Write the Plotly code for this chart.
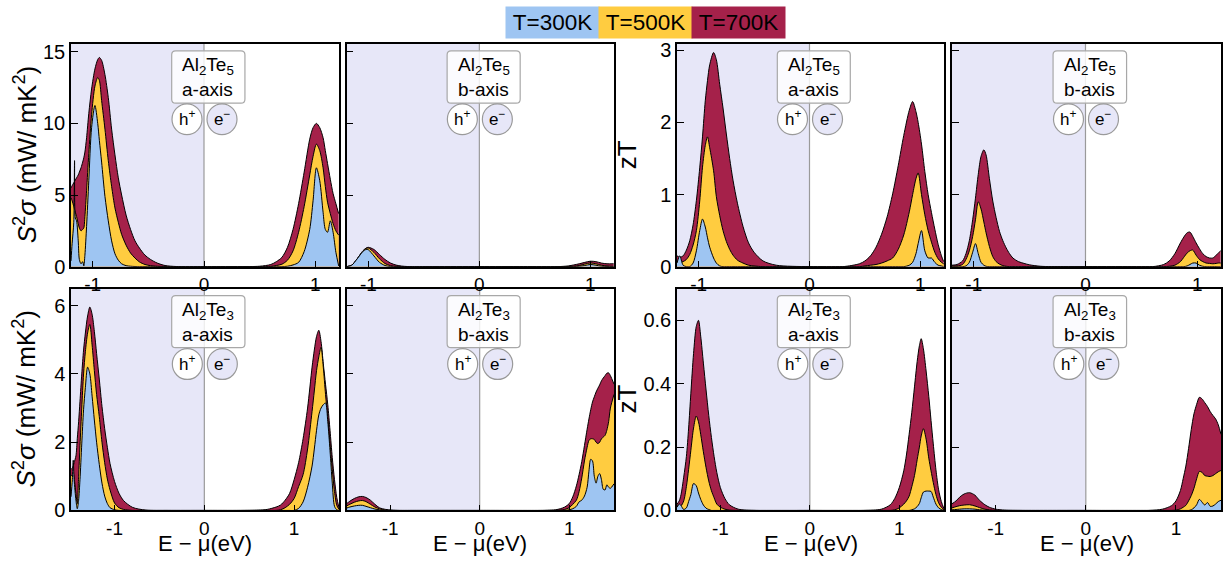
import plotly.graph_objects as go

# ---------------- data ----------------
TEMPS = ["T=300K", "T=500K", "T=700K"]
TEMP_COLORS = ["#9ec5f2", "#ffcc40", "#a5214a"]

XTICKS = [-1, 0, 1]
XTICKTEXT = ["-1", "0", "1"]

# Al2Te5 a-axis, power factor (mW/mK^2)
E_p1 = [-1.195, -1.185, -1.17, -1.163, -1.156, -1.145, -1.13, -1.12, -1.105, -1.09, -1.08, -1.07, -1.055, -1.035,
        -1.01, -0.98, -0.955, -0.94, -0.92, -0.89, -0.86, -0.83, -0.8, -0.77, -0.74, -0.7, -0.66, -0.62, -0.58,
        -0.53, -0.48, -0.42, -0.35, -0.25, 0.0, 0.3, 0.5, 0.6, 0.65, 0.7, 0.75, 0.8, 0.85, 0.9, 0.95, 0.98, 1.01,
        1.04, 1.07, 1.09, 1.11, 1.135, 1.16, 1.185, 1.21]
PF_A5a_700 = [5.5, 5.65, 5.85, 5.95, 6.05, 6.2, 6.4, 6.6, 6.9, 7.3, 7.6, 8.0, 9.0, 10.7, 12.4, 13.8, 14.45, 14.6, 14.4,
              13.4, 11.8, 9.6, 7.8, 6.2, 5.0, 3.6, 2.6, 1.8, 1.3, 0.8, 0.5, 0.25, 0.08, 0.01, 0, 0, 0.03, 0.15, 0.35,
              0.65, 1.35, 2.6, 4.4, 6.6, 8.9, 9.7, 10.0, 9.7, 9.0, 8.1, 7.2, 6.1, 5.1, 4.4, 3.7]
PF_A5a_500 = [4.8, 4.6, 4.2, 4.0, 3.8, 3.5, 3.0, 2.7, 2.5, 2.6, 2.7, 3.5, 5.3, 7.9, 10.6, 12.6, 13.2, 13.0, 11.6, 9.6,
              7.4, 5.6, 4.1, 3.1, 2.25, 1.5, 0.95, 0.6, 0.33, 0.15, 0.07, 0.03, 0.01, 0, 0, 0, 0, 0.02, 0.08, 0.17,
              0.45, 1.1, 2.4, 4.2, 6.4, 7.7, 8.55, 8.1, 6.9, 5.6, 4.5, 3.7, 3.0, 2.5, 2.2]
PF_A5a_300 = [0.4, 1.6, 3.1, 7.4, 3.4, 3.2, 1.8, 0.5, 0.2, 0.35, 0.05, 0.8, 2.8, 6.0, 9.7, 11.25, 10.0, 8.8, 7.3, 4.9,
              3.2, 1.8, 0.9, 0.45, 0.2, 0.07, 0.03, 0.01, 0, 0, 0, 0, 0, 0, 0, 0, 0, 0, 0, 0, 0.03, 0.12, 0.3, 1.05,
              2.6, 4.6, 6.9, 6.0, 3.8, 2.6, 2.4, 3.2, 2.4, 1.0, 0.05]

# Al2Te5 b-axis, power factor
E_p2 = [-1.195, -1.15, -1.1, -1.05, -1.02, -1.0, -0.95, -0.9, -0.85, -0.8, -0.75, -0.7, -0.65, -0.6, -0.4, 0, 0.4,
        0.7, 0.8, 0.85, 0.9, 0.95, 1.0, 1.05, 1.1, 1.15, 1.21]
PF_A5b_700 = [0.0, 0.1, 0.55, 1.1, 1.3, 1.35, 1.2, 0.85, 0.5, 0.25, 0.11, 0.04, 0.01, 0, 0, 0, 0, 0, 0.05, 0.12, 0.2,
              0.3, 0.38, 0.35, 0.25, 0.2, 0.2]
PF_A5b_500 = [0.0, 0.1, 0.55, 1.08, 1.27, 1.3, 1.0, 0.55, 0.22, 0.07, 0.02, 0, 0, 0, 0, 0, 0, 0, 0.01, 0.03, 0.08,
              0.18, 0.26, 0.2, 0.1, 0.05, 0.03]
PF_A5b_300 = [0.0, 0.1, 0.55, 1.05, 1.2, 1.18, 0.75, 0.3, 0.08, 0.01, 0, 0, 0, 0, 0, 0, 0, 0, 0, 0, 0.03, 0.08, 0.15,
              0.1, 0.03, 0.01, 0]

# Al2Te5 a-axis, zT
E_p3 = [-1.195, -1.17, -1.14, -1.11, -1.08, -1.05, -1.02, -0.99, -0.965, -0.94, -0.92, -0.9, -0.865, -0.84, -0.81,
        -0.78, -0.75, -0.72, -0.69, -0.65, -0.6, -0.55, -0.5, -0.42, -0.3, 0, 0.3, 0.45, 0.5, 0.55, 0.6, 0.65, 0.7,
        0.75, 0.8, 0.85, 0.9, 0.93, 0.96, 0.98, 1.01, 1.04, 1.07, 1.1, 1.13, 1.16, 1.19, 1.21]
ZT_A5a_700 = [0.15, 0.13, 0.15, 0.23, 0.36, 0.58, 0.92, 1.37, 1.8, 2.3, 2.58, 2.8, 2.97, 2.87, 2.53, 2.2, 1.84, 1.5,
              1.2, 0.88, 0.56, 0.33, 0.2, 0.08, 0.02, 0, 0,
              0.04, 0.08, 0.15, 0.27, 0.45, 0.69, 1.01, 1.4, 1.82, 2.17, 2.29, 2.15, 2.0, 1.7, 1.32, 1.0, 0.75, 0.52,
              0.31, 0.15, 0.07]
ZT_A5a_500 = [0.08, 0.06, 0.07, 0.1, 0.17, 0.3, 0.5, 0.91, 1.38, 1.68, 1.8, 1.65, 1.33, 0.97, 0.71, 0.5, 0.35, 0.24,
              0.16, 0.09, 0.05, 0.02, 0.01, 0, 0, 0, 0,
              0, 0.01, 0.02, 0.03, 0.05, 0.08, 0.12, 0.24, 0.44, 0.76, 1.0, 1.22, 1.3, 1.0, 0.72, 0.5, 0.34, 0.2,
              0.11, 0.06, 0.04]
ZT_A5a_300 = [0.05, 0.15, 0.02, 0, 0, 0.05, 0.22, 0.5, 0.66, 0.55, 0.4, 0.27, 0.12, 0.05, 0.01, 0, 0, 0, 0, 0, 0, 0,
              0, 0, 0, 0, 0,
              0, 0, 0, 0, 0, 0, 0, 0, 0, 0.02, 0.06, 0.18, 0.32, 0.5, 0.22, 0.12, 0.12, 0.06, 0.02, 0.01, 0]

# Al2Te5 b-axis, zT
E_p4 = [-1.195, -1.15, -1.1, -1.07, -1.04, -1.01, -0.985, -0.96, -0.935, -0.91, -0.89, -0.86, -0.83, -0.8, -0.77,
        -0.74, -0.71, -0.68, -0.65, -0.6, -0.55, -0.5, -0.4, -0.2, 0, 0.3, 0.6, 0.7, 0.75, 0.8, 0.85, 0.88, 0.91,
        0.935, 0.96, 0.99, 1.02, 1.05, 1.08, 1.11, 1.14, 1.17, 1.19, 1.21]
ZT_A5b_700 = [0.02, 0.03, 0.08, 0.18, 0.36, 0.65, 0.95, 1.28, 1.53, 1.62, 1.55, 1.22, 0.91, 0.68, 0.49, 0.36, 0.26,
              0.18, 0.12, 0.07, 0.045, 0.025, 0.005, 0, 0, 0, 0, 0.03, 0.08, 0.18, 0.33, 0.41, 0.47, 0.48, 0.42, 0.33,
              0.25, 0.18, 0.14, 0.12, 0.12, 0.16, 0.19, 0.22]
ZT_A5b_500 = [0.01, 0.01, 0.03, 0.1, 0.22, 0.42, 0.65, 0.9, 0.8, 0.62, 0.47, 0.28, 0.14, 0.07, 0.035, 0.015, 0.005,
              0, 0, 0, 0, 0, 0, 0, 0, 0, 0, 0, 0.005, 0.02, 0.07, 0.13, 0.19, 0.22, 0.23, 0.16, 0.1, 0.07, 0.05, 0.045,
              0.04, 0.045, 0.05, 0.05]
ZT_A5b_300 = [0, 0, 0, 0.01, 0.06, 0.2, 0.32, 0.18, 0.06, 0.02, 0.005, 0, 0, 0, 0, 0, 0, 0, 0, 0, 0, 0, 0, 0, 0, 0,
              0, 0, 0, 0, 0, 0, 0.01, 0.03, 0.05, 0.05, 0.02, 0.005, 0, 0, 0, 0, 0, 0]

# Al2Te3 a-axis, power factor
E_p5 = [-1.485, -1.47, -1.46, -1.45, -1.43, -1.415, -1.4, -1.385, -1.365, -1.345, -1.325, -1.3, -1.275, -1.25, -1.225,
        -1.2, -1.17, -1.14, -1.11, -1.08, -1.05, -1.0, -0.95, -0.9, -0.8, -0.65, -0.4, 0, 0.4, 0.6, 0.7, 0.8, 0.85,
        0.9, 0.95, 1.0, 1.05, 1.1, 1.15, 1.2, 1.225, 1.25, 1.275, 1.3, 1.325, 1.35, 1.375, 1.4, 1.425, 1.45, 1.475,
        1.5]
PF_A3a_700 = [1.2, 1.25, 1.3, 1.4, 1.6, 2.1, 2.6, 3.2, 4.0, 4.7, 5.2, 5.7, 5.96, 5.75, 5.25, 4.6, 3.85, 3.05, 2.4,
              1.85, 1.37, 0.85, 0.5, 0.29, 0.09, 0.01, 0, 0, 0, 0.01, 0.03, 0.1, 0.16, 0.3, 0.5, 0.9, 1.4, 2.1, 3.0,
              4.2, 4.7, 5.1, 5.28, 4.95, 4.3, 3.7, 3.1, 2.35, 1.55, 0.9, 0.38, 0.08]
PF_A3a_500 = [1.0, 1.05, 1.1, 0.95, 0.5, 0.2, 1.0, 1.9, 3.0, 4.0, 4.65, 5.2, 5.45, 4.85, 4.1, 3.4, 2.75, 2.0, 1.4,
              0.92, 0.6, 0.22, 0.08, 0.03, 0, 0, 0, 0, 0, 0, 0, 0, 0.02, 0.08, 0.18, 0.35, 0.7, 1.05, 1.8, 2.9, 3.5,
              4.1, 4.5, 4.78, 4.2, 3.4, 2.7, 1.96, 1.2, 0.55, 0.15, 0.03]
PF_A3a_300 = [0.4, 0.9, 1.47, 0.9, 0.3, 0.05, 0.3, 0.9, 1.95, 2.95, 3.6, 4.2, 4.0, 3.35, 2.65, 2.0, 1.35, 0.8, 0.42,
              0.2, 0.08, 0.02, 0, 0, 0, 0, 0, 0, 0, 0, 0, 0, 0, 0, 0, 0, 0.06, 0.25, 0.68, 1.3, 1.8, 2.35, 2.8, 3.0,
              3.1, 3.15, 2.6, 1.75, 0.8, 0.12, 0.02, 0]

# Al2Te3 b-axis, power factor
E_p6 = [-1.485, -1.45, -1.4, -1.35, -1.31, -1.27, -1.22, -1.17, -1.12, -1.05, -0.98, -0.9, -0.7, 0, 0.7, 0.8, 0.85,
        0.9, 0.95, 1.0, 1.04, 1.08, 1.11, 1.14, 1.17, 1.2, 1.22, 1.24, 1.26, 1.28, 1.3, 1.32, 1.34, 1.36, 1.38, 1.4,
        1.42, 1.44, 1.46, 1.5]
PF_A3b_700 = [0.2, 0.27, 0.35, 0.4, 0.41, 0.38, 0.3, 0.18, 0.08, 0.03, 0.01, 0, 0, 0, 0, 0.01, 0.02, 0.05, 0.1, 0.2,
              0.4, 0.72, 1.05, 1.43, 1.9, 2.38, 2.68, 2.95, 3.18, 3.33, 3.47, 3.58, 3.68, 3.8, 3.88, 3.95, 4.02, 4.03,
              3.95, 3.7]
PF_A3b_500 = [0.13, 0.18, 0.24, 0.28, 0.29, 0.26, 0.18, 0.1, 0.05, 0.01, 0, 0, 0, 0, 0, 0, 0, 0.01, 0.03, 0.08, 0.18,
              0.3, 0.55, 0.95, 1.45, 1.85, 2.05, 2.1, 2.1, 2.08, 2.0, 1.96, 2.0, 2.1, 2.15, 2.2, 2.35, 2.6, 3.0, 3.4]
PF_A3b_300 = [0.07, 0.1, 0.13, 0.15, 0.15, 0.12, 0.08, 0.04, 0.02, 0, 0, 0, 0, 0, 0, 0, 0, 0, 0, 0.02, 0.05, 0.12,
              0.25, 0.3, 0.42, 0.68, 1.15, 1.5, 1.45, 1.0, 0.8, 1.0, 1.08, 0.9, 0.62, 0.6, 0.75, 0.68, 0.65, 0.78]

# Al2Te3 a-axis, zT
E_p7 = [-1.485, -1.46, -1.44, -1.41, -1.38, -1.355, -1.33, -1.3, -1.27, -1.245, -1.22, -1.19, -1.16, -1.13, -1.1,
        -1.07, -1.04, -1.0, -0.95, -0.9, -0.8, -0.6, 0, 0.6, 0.8, 0.9, 0.95, 1.0, 1.05, 1.08, 1.11, 1.14, 1.17, 1.2,
        1.225, 1.245, 1.27, 1.3, 1.33, 1.355, 1.38, 1.41, 1.44, 1.47, 1.5]
ZT_A3a_700 = [0.02, 0.03, 0.05, 0.105, 0.17, 0.26, 0.37, 0.495, 0.58, 0.6, 0.55, 0.465, 0.38, 0.3, 0.23, 0.17, 0.12,
              0.072, 0.038, 0.018, 0.004, 0, 0, 0, 0.004, 0.018, 0.038, 0.072, 0.125, 0.175, 0.24, 0.31, 0.39, 0.47,
              0.52, 0.542, 0.51, 0.44, 0.36, 0.284, 0.21, 0.128, 0.065, 0.028, 0.005]
ZT_A3a_500 = [0.015, 0.02, 0.015, 0.03, 0.075, 0.13, 0.19, 0.26, 0.298, 0.28, 0.24, 0.185, 0.135, 0.093, 0.062, 0.04,
              0.02, 0.01, 0.004, 0.001, 0, 0, 0, 0, 0, 0, 0.002, 0.008, 0.02, 0.03, 0.045, 0.075, 0.11, 0.16, 0.2,
              0.235, 0.258, 0.225, 0.165, 0.125, 0.088, 0.05, 0.024, 0.01, 0.002]
ZT_A3a_300 = [0.01, 0.02, 0.015, 0.003, 0.008, 0.028, 0.05, 0.085, 0.078, 0.055, 0.035, 0.017, 0.007, 0.003,
              0, 0, 0, 0, 0, 0, 0, 0, 0, 0, 0, 0, 0, 0, 0, 0, 0,
              0.002, 0.005, 0.012, 0.022, 0.04, 0.058, 0.061, 0.061, 0.06, 0.042, 0.02, 0.008, 0.003, 0]

# Al2Te3 b-axis, zT
E_p8 = [-1.485, -1.44, -1.4, -1.35, -1.29, -1.23, -1.18, -1.12, -1.07, -1.0, -0.9, -0.7, 0, 0.7, 0.85, 0.95, 1.0,
        1.05, 1.08, 1.11, 1.14, 1.17, 1.2, 1.23, 1.26, 1.29, 1.32, 1.35, 1.38, 1.41, 1.44, 1.47, 1.5]
ZT_A3b_700 = [0.021, 0.03, 0.042, 0.052, 0.056, 0.048, 0.032, 0.018, 0.01, 0.004, 0.001, 0, 0, 0, 0.004, 0.015, 0.03,
              0.063, 0.1, 0.14, 0.195, 0.255, 0.305, 0.335, 0.357, 0.352, 0.34, 0.328, 0.312, 0.3, 0.289, 0.27, 0.24]
ZT_A3b_500 = [0.008, 0.012, 0.015, 0.017, 0.018, 0.014, 0.009, 0.004, 0.002, 0, 0, 0, 0, 0, 0, 0, 0.001, 0.005, 0.01,
              0.016, 0.03, 0.047, 0.07, 0.1, 0.123, 0.12, 0.11, 0.108, 0.107, 0.11, 0.116, 0.122, 0.126]
ZT_A3b_300 = [0.002, 0.003, 0.004, 0.005, 0.005, 0.004, 0.002, 0.001, 0, 0, 0, 0, 0, 0, 0, 0, 0, 0, 0, 0, 0,
              0.002, 0.008, 0.018, 0.035, 0.026, 0.017, 0.025, 0.013, 0.014, 0.02, 0.028, 0.032]

PANEL_LABELS = ["Al<sub>2</sub>Te<sub>5</sub><br>a-axis", "Al<sub>2</sub>Te<sub>5</sub><br>b-axis",
                "Al<sub>2</sub>Te<sub>5</sub><br>a-axis", "Al<sub>2</sub>Te<sub>5</sub><br>b-axis",
                "Al<sub>2</sub>Te<sub>3</sub><br>a-axis", "Al<sub>2</sub>Te<sub>3</sub><br>b-axis",
                "Al<sub>2</sub>Te<sub>3</sub><br>a-axis", "Al<sub>2</sub>Te<sub>3</sub><br>b-axis"]

PANELS = [
    (E_p1, [PF_A5a_300, PF_A5a_500, PF_A5a_700]),
    (E_p2, [PF_A5b_300, PF_A5b_500, PF_A5b_700]),
    (E_p3, [ZT_A5a_300, ZT_A5a_500, ZT_A5a_700]),
    (E_p4, [ZT_A5b_300, ZT_A5b_500, ZT_A5b_700]),
    (E_p5, [PF_A3a_300, PF_A3a_500, PF_A3a_700]),
    (E_p6, [PF_A3b_300, PF_A3b_500, PF_A3b_700]),
    (E_p7, [ZT_A3a_300, ZT_A3a_500, ZT_A3a_700]),
    (E_p8, [ZT_A3b_300, ZT_A3b_500, ZT_A3b_700]),
]

X_RANGES = [[-1.195, 1.213], [-1.485, 1.5]]          # per row
Y_RANGES = [[0, 15.55], [0, 15.55], [0, 3.09], [0, 3.09],
            [0, 6.5], [0, 6.5], [0, 0.70], [0, 0.70]]
Y_TICKS = [[0, 5, 10, 15], [0, 5, 10, 15], [0, 1, 2, 3], [0, 1, 2, 3],
           [0, 2, 4, 6], [0, 2, 4, 6], [0, 0.2, 0.4, 0.6], [0, 0.2, 0.4, 0.6]]
Y_TICKTEXT = [["0", "5", "10", "15"], ["0", "5", "10", "15"], ["0", "1", "2", "3"], ["0", "1", "2", "3"],
              ["0", "2", "4", "6"], ["0", "2", "4", "6"], ["0.0", "0.2", "0.4", "0.6"], ["0.0", "0.2", "0.4", "0.6"]]

YTITLE_PF = "<i>S</i><sup>2</sup><i>σ</i> (mW/ mK<sup>2</sup>)"
YTITLE_ZT = "zT"
XTITLE = "E − μ(eV)"

# ---------------- layout geometry ----------------
W, H = 1225, 564
COL_PX = [(71, 339), (346.7, 614), (677, 944), (952, 1221)]   # target picture pixels
ROW_PX = [(43, 266), (288, 510)]
# the photographed page comes out slightly squeezed vertically (y_pic ~ 3.1 + 0.9743*y_page);
# target picture positions are converted back to page positions
SQ_A, SQ_S = 3.1, 0.9743
FONT = "Liberation Sans, Arial, sans-serif"
LAVENDER = "#e7e7f8"


def px_x(x):
    return x / W


def px_y(y):
    return 1 - ((y - SQ_A) / SQ_S) / H


fig = go.Figure()
layout = dict(width=W, height=H, margin=dict(l=0, r=0, t=0, b=0),
              paper_bgcolor="white", plot_bgcolor="white", showlegend=False,
              font=dict(family=FONT, color="black"))
shapes, annotations = [], []

for i, (E, series) in enumerate(PANELS):
    row, col = divmod(i, 4)
    n = "" if i == 0 else str(i + 1)
    xa, ya = "x" + n, "y" + n
    cx0, cx1 = COL_PX[col]
    ry0, ry1 = ROW_PX[row]
    layout["xaxis" + n] = dict(
        domain=[px_x(cx0), px_x(cx1)], anchor=ya, range=X_RANGES[row],
        tickvals=XTICKS, ticktext=XTICKTEXT, ticks="inside", ticklen=6, tickwidth=1.3,
        tickcolor="black", showline=True, linecolor="black", linewidth=1.5, mirror=True,
        showgrid=False, zeroline=False, tickfont=dict(size=19, family=FONT))
    layout["yaxis" + n] = dict(
        domain=[px_y(ry1), px_y(ry0)], anchor=xa, range=Y_RANGES[i],
        tickvals=Y_TICKS[i], ticktext=Y_TICKTEXT[i], ticks="inside", ticklen=7, tickwidth=1.3,
        tickcolor="black", showline=True, linecolor="black", linewidth=1.5, mirror=True,
        showgrid=False, zeroline=False, showticklabels=(col % 2 == 0),
        tickfont=dict(size=20, family=FONT))

    # hole (x<0) shading and zero line
    shapes.append(dict(type="rect", xref=xa, yref=ya + " domain", x0=X_RANGES[row][0], x1=0, y0=0, y1=1,
                       fillcolor=LAVENDER, line=dict(width=0), layer="below"))
    shapes.append(dict(type="line", xref=xa, yref=ya + " domain", x0=0, x1=0, y0=0, y1=1,
                       line=dict(color="#9a9a9a", width=1.2), layer="below"))

    # curves: highest T drawn first
    for k in (2, 1, 0):
        fig.add_trace(go.Scatter(x=E, y=series[k], xaxis=xa, yaxis=ya, mode="lines",
                                 line=dict(color="black", width=1, shape="spline", smoothing=0.8),
                                 fill="tozeroy", fillcolor=TEMP_COLORS[k], hoverinfo="skip"))

    # rounded label box
    bx0, bx1, by0, by1 = 0.3757, 0.649, 0.734, 0.9686
    rx, rr = 4 / (cx1 - cx0), 4 / (ry1 - ry0)
    path = (f"M {bx0+rx},{by0} L {bx1-rx},{by0} Q {bx1},{by0} {bx1},{by0+rr} L {bx1},{by1-rr} "
            f"Q {bx1},{by1} {bx1-rx},{by1} L {bx0+rx},{by1} Q {bx0},{by1} {bx0},{by1-rr} "
            f"L {bx0},{by0+rr} Q {bx0},{by0} {bx0+rx},{by0} Z")
    shapes.append(dict(type="path", xref=xa + " domain", yref=ya + " domain", path=path,
                       fillcolor="rgba(255,255,255,0.82)", line=dict(color="#a8a8a8", width=1.2),
                       layer="above"))
    annotations.append(dict(xref=xa + " domain", yref=ya + " domain", x=(bx0 + bx1) / 2, y=(by0 + by1) / 2,
                            xanchor="center", yanchor="middle",
                            text=PANEL_LABELS[i], showarrow=False, align="left",
                            font=dict(size=19, family=FONT)))
    # h+ / e- circles
    cy = 1 - 75.5 / (ry1 - ry0)
    for (px0, px1, fc, txt, sh) in [(-32, -2, "white", "h<sup>+</sup>", -17),
                                    (3, 33, LAVENDER, "e<sup>−</sup>", 18)]:
        shapes.append(dict(type="circle", xref=xa, yref=ya + " domain", xsizemode="pixel", ysizemode="pixel",
                           xanchor=0, yanchor=cy, x0=px0, x1=px1, y0=-15.4, y1=15.4,
                           fillcolor=fc, line=dict(color="#9a9a9a", width=1.2), layer="above"))
        annotations.append(dict(xref=xa, yref=ya + " domain", x=0, xshift=sh, y=cy, yshift=1, text=txt,
                                xanchor="center", yanchor="middle",
                                showarrow=False, font=dict(size=17, family=FONT)))

    # x title on bottom row
    if row == 1:
        annotations.append(dict(xref="paper", yref="paper", x=px_x((cx0 + cx1) / 2), y=px_y(543),
                                xanchor="center", yanchor="middle",
                                text=XTITLE, showarrow=False, font=dict(size=22, family=FONT)))

# y titles
for row in range(2):
    ry0, ry1 = ROW_PX[row]
    yc = px_y((ry0 + ry1) / 2)
    annotations.append(dict(xref="paper", yref="paper", x=px_x(25), y=yc, text=YTITLE_PF, textangle=-90,
                            xanchor="center", yanchor="middle",
                            showarrow=False, font=dict(size=26, family=FONT)))
    annotations.append(dict(xref="paper", yref="paper", x=px_x(627), y=yc, text=YTITLE_ZT, textangle=-90,
                            xanchor="center", yanchor="middle",
                            showarrow=False, font=dict(size=26, family=FONT)))

# temperature legend (coloured boxes)
LEG_X = [505.7, 598.5, 691.5]
for lx, t, c in zip(LEG_X, TEMPS, TEMP_COLORS):
    annotations.append(dict(xref="paper", yref="paper", x=px_x(lx + 46.5), y=px_y(22), xanchor="center",
                            yanchor="middle", text=t, showarrow=False, bgcolor=c, width=93, height=31,
                            borderpad=0, font=dict(size=22.5, family=FONT, color="black")))

layout["shapes"] = shapes
layout["annotations"] = annotations
fig.update_layout(**layout)
fig.write_html("out.html", config={"displayModeBar": False},
               post_script=("document.documentElement.style.overflow='hidden';"
                            "document.body.style.overflow='hidden';"
                            "document.body.style.margin='0px';"))
